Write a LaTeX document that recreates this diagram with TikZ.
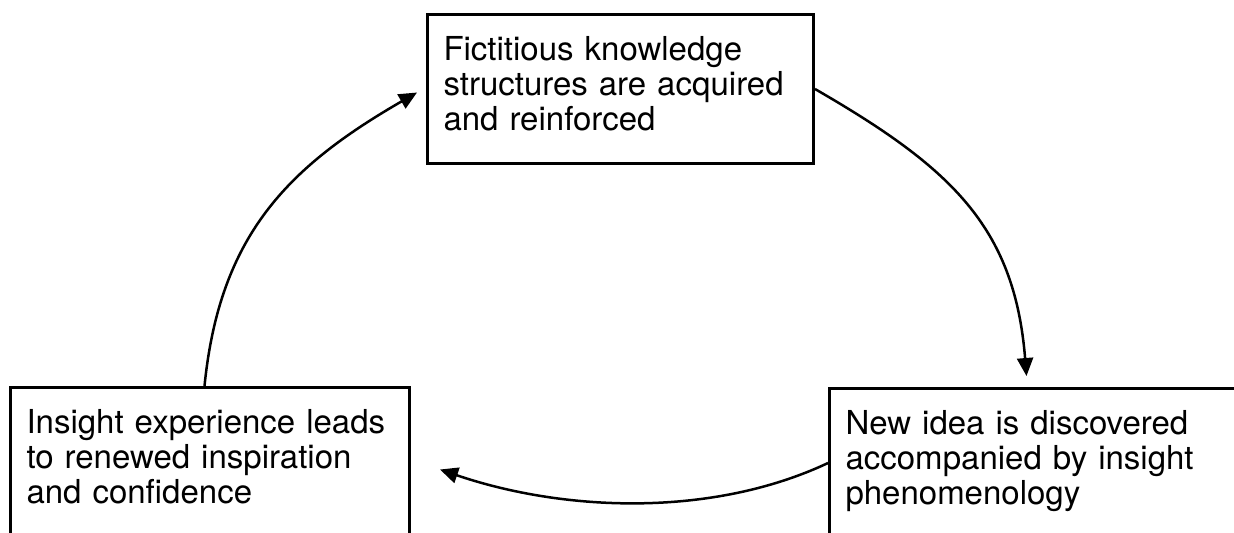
\documentclass[tikz,border=0pt]{standalone}
\usepackage{fontspec}
\setmainfont{TeX Gyre Heros}
\usetikzlibrary{arrows.meta}
\begin{document}
\begin{tikzpicture}[x=0.5pt,y=-0.5pt,
  box/.style={draw,line width=1.5pt,anchor=north west,align=left,
    inner xsep=8pt,inner ysep=12pt,text height=11pt,text depth=39.5pt,
    font=\fontsize{16.5}{17.4}\selectfont},
  flow/.style={line width=1.25pt,-{Triangle[length=9pt,width=8pt]}}]
\useasboundingbox (0,0) rectangle (1234,532);
\clip (0,0) rectangle (1234,532);
% the three stages
\node[box,text width=177pt]   (fict)    at (426,13)  {Fictitious knowledge\\structures are acquired\\and reinforced};
\node[box,text width=189pt]   (idea)    at (828,387) {New idea is discovered\\accompanied by insight\\phenomenology};
\node[box,text width=183.5pt] (insight) at (9,386)   {Insight experience leads\\to renewed inspiration\\and confidence};
% the cycle
\draw[flow] (fict.east) .. controls +(135,78) and +(-12,-150) .. ([xshift=-4pt,yshift=5.5pt]idea.north);
\draw[flow] (idea.west) .. controls +(-117,55) and +(123,42) .. ([xshift=14.5pt,yshift=-3.75pt]insight.east);
\draw[flow] ([xshift=-2.75pt]insight.north) .. controls +(15,-150) and +(-130,75) .. ([xshift=-4.5pt,yshift=-1.75pt]fict.west);
\end{tikzpicture}
\end{document}
